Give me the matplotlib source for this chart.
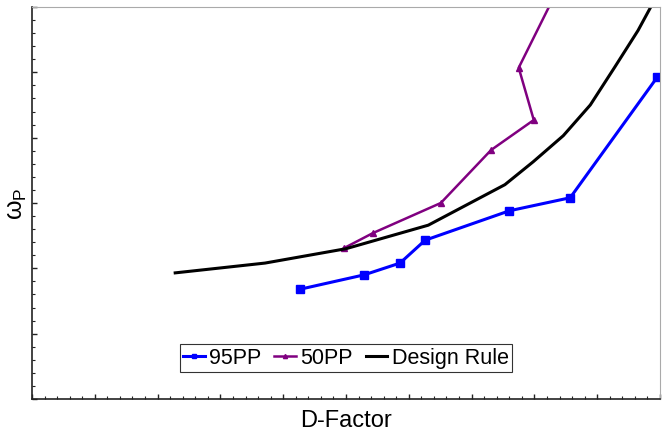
import matplotlib.pyplot as plt
from matplotlib.ticker import MultipleLocator

# values (arbitrary axis units, no tick labels shown)
pp95_x = [4.27, 5.29, 5.86, 6.26, 7.60, 8.57, 9.96]
pp95_y = [1.68, 1.90, 2.08, 2.43, 2.88, 3.08, 4.93]

pp50_x = [4.97, 5.43, 6.51, 7.31, 7.99, 7.75, 8.49]
pp50_y = [2.31, 2.54, 3.00, 3.81, 4.27, 5.07, 6.50]

rule_x = [2.28, 3.71, 5.00, 6.31, 7.53, 7.98, 8.46, 8.89, 9.28, 9.65, 9.87, 10.0]
rule_y = [1.93, 2.08, 2.30, 2.66, 3.28, 3.63, 4.03, 4.50, 5.08, 5.64, 6.03, 6.30]

plt.rcParams['font.family'] = ['Liberation Sans', 'DejaVu Sans']

fig = plt.figure(figsize=(6.67, 4.31), dpi=100)
ax = fig.add_axes([0.048, 0.072, 0.9415, 0.9095])

ax.plot(pp95_x, pp95_y, color='#0000ff', lw=2.2, marker='s', ms=5.5,
        label='95PP')
ax.plot(pp50_x, pp50_y, color='#800080', lw=1.8, marker='^', ms=5,
        label='50PP')
ax.plot(rule_x, rule_y, color='black', lw=2.2, label='Design Rule')

ax.set_xlim(0, 10)
ax.set_ylim(0, 6)

ax.xaxis.set_major_locator(MultipleLocator(1))
ax.xaxis.set_minor_locator(MultipleLocator(0.2))
ax.yaxis.set_major_locator(MultipleLocator(1))
ax.yaxis.set_minor_locator(MultipleLocator(0.2))
ax.tick_params(which='both', direction='in', top=False, right=False,
               labelbottom=False, labelleft=False, color='#222222')
ax.tick_params(which='major', length=3.5, width=1)
ax.tick_params(which='minor', length=2, width=0.8)

for side in ['top', 'right']:
    ax.spines[side].set_color('#aaaaaa')
for side in ['left', 'bottom']:
    ax.spines[side].set_color('#222222')
    ax.spines[side].set_linewidth(1.2)

ax.set_xlabel('D-Factor', fontsize=17, labelpad=7)
ax.set_ylabel(r'ω$_\mathregular{P}$', fontsize=18, labelpad=2)

leg = ax.legend(loc='lower center', bbox_to_anchor=(0.5, 0.07), ncol=3,
                fontsize=15.5, frameon=True, fancybox=False, handlelength=1.0,
                handletextpad=0.2, columnspacing=0.6, borderpad=0.15,
                borderaxespad=0, markerscale=0.6)
leg.get_frame().set_edgecolor('black')
leg.get_frame().set_linewidth(0.8)

fig.savefig('out.png', dpi=100)
plt.close(fig)
